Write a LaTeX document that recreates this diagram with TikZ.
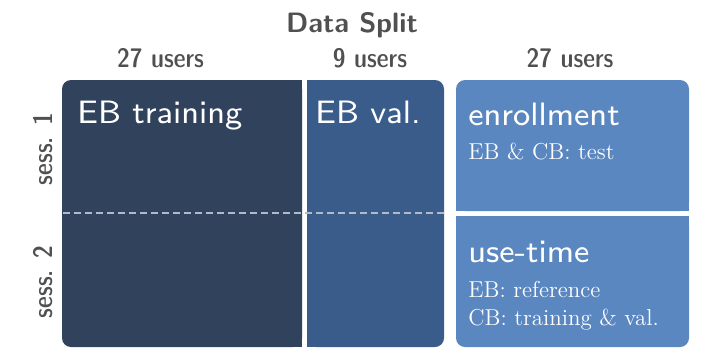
\documentclass[tikz,border=0pt]{standalone}
\usepackage{fontspec}
\newfontfamily\boxsans{lmsans8-regular.otf}
\newfontfamily\condsans{lmsansdemicond10-regular.otf}
\definecolor{cA}{HTML}{31435C}
\definecolor{cB}{HTML}{3A5C8B}
\definecolor{cC}{HTML}{5A87C0}
\definecolor{txtgray}{HTML}{505050}
\definecolor{dashc}{HTML}{AFBBCB}
\begin{document}
\begin{tikzpicture}[x=0.5pt,y=-0.5pt,
  lbl/.style={font=\condsans\fontsize{13.4}{16}\selectfont, text=txtgray, inner sep=0pt, anchor=base},
  hdr/.style={font=\sffamily\bfseries\fontsize{14}{16}\selectfont, text=txtgray, inner sep=0pt, anchor=base},
  boxtitle/.style={font=\boxsans\fontsize{16.2}{19}\selectfont, text=white, inner sep=0pt, anchor=base west},
  boxsub/.style={font=\rmfamily\fontsize{11.5}{13}\selectfont, text=white, inner sep=0pt, anchor=base west},
  rc/.style={rounded corners=4.5pt}]
\useasboundingbox (0,0) rectangle (706,359);
% blocks
\fill[cA,rc] (62,80) rectangle (302,347);
\fill[cA] (250,80) rectangle (302,347);
\fill[cB,rc] (307,80) rectangle (444,347);
\fill[cB] (307,80) rectangle (360,347);
\fill[cC,rc] (456,80) rectangle (689,211);
\fill[cC] (456,150) rectangle (689,211);
\fill[cC,rc] (456,216) rectangle (689,347);
\fill[cC] (456,216) rectangle (689,280);
% session divider
\coordinate (dl) at (63,213);
\coordinate (dr) at (444,213);
\draw[dashc, line width=1.2pt, dash pattern=on 3.3pt off 2.2pt] (dl) -- (dr);
% header texts
\node[hdr] (title) at (352,32) {Data Split};
\node[lbl] (u1) at (160.5,67.5) {27 users};
\node[lbl] (u2) at (370,67.5) {9 users};
\node[lbl] (u3) at (570,67.5) {27 users};
\node[lbl, rotate=90] (s1) at (52,149) {sess. 1};
\node[lbl, rotate=90] (s2) at (52,282) {sess. 2};
% block texts
\node[boxtitle] (ebt) at (77,123) {EB training};
\node[boxtitle] (ebv) at (315,123) {EB val.};
\node[boxtitle] (enr) at (468,125) {enrollment};
\node[boxsub] (enrs) at (468,159) {EB \& CB: test};
\node[boxtitle] (use) at (468,262) {use-time};
\node[boxsub] (uses1) at (468,297) {EB: reference};
\node[boxsub] (uses2) at (468,325) {CB: training \& val.};
\end{tikzpicture}
\end{document}
